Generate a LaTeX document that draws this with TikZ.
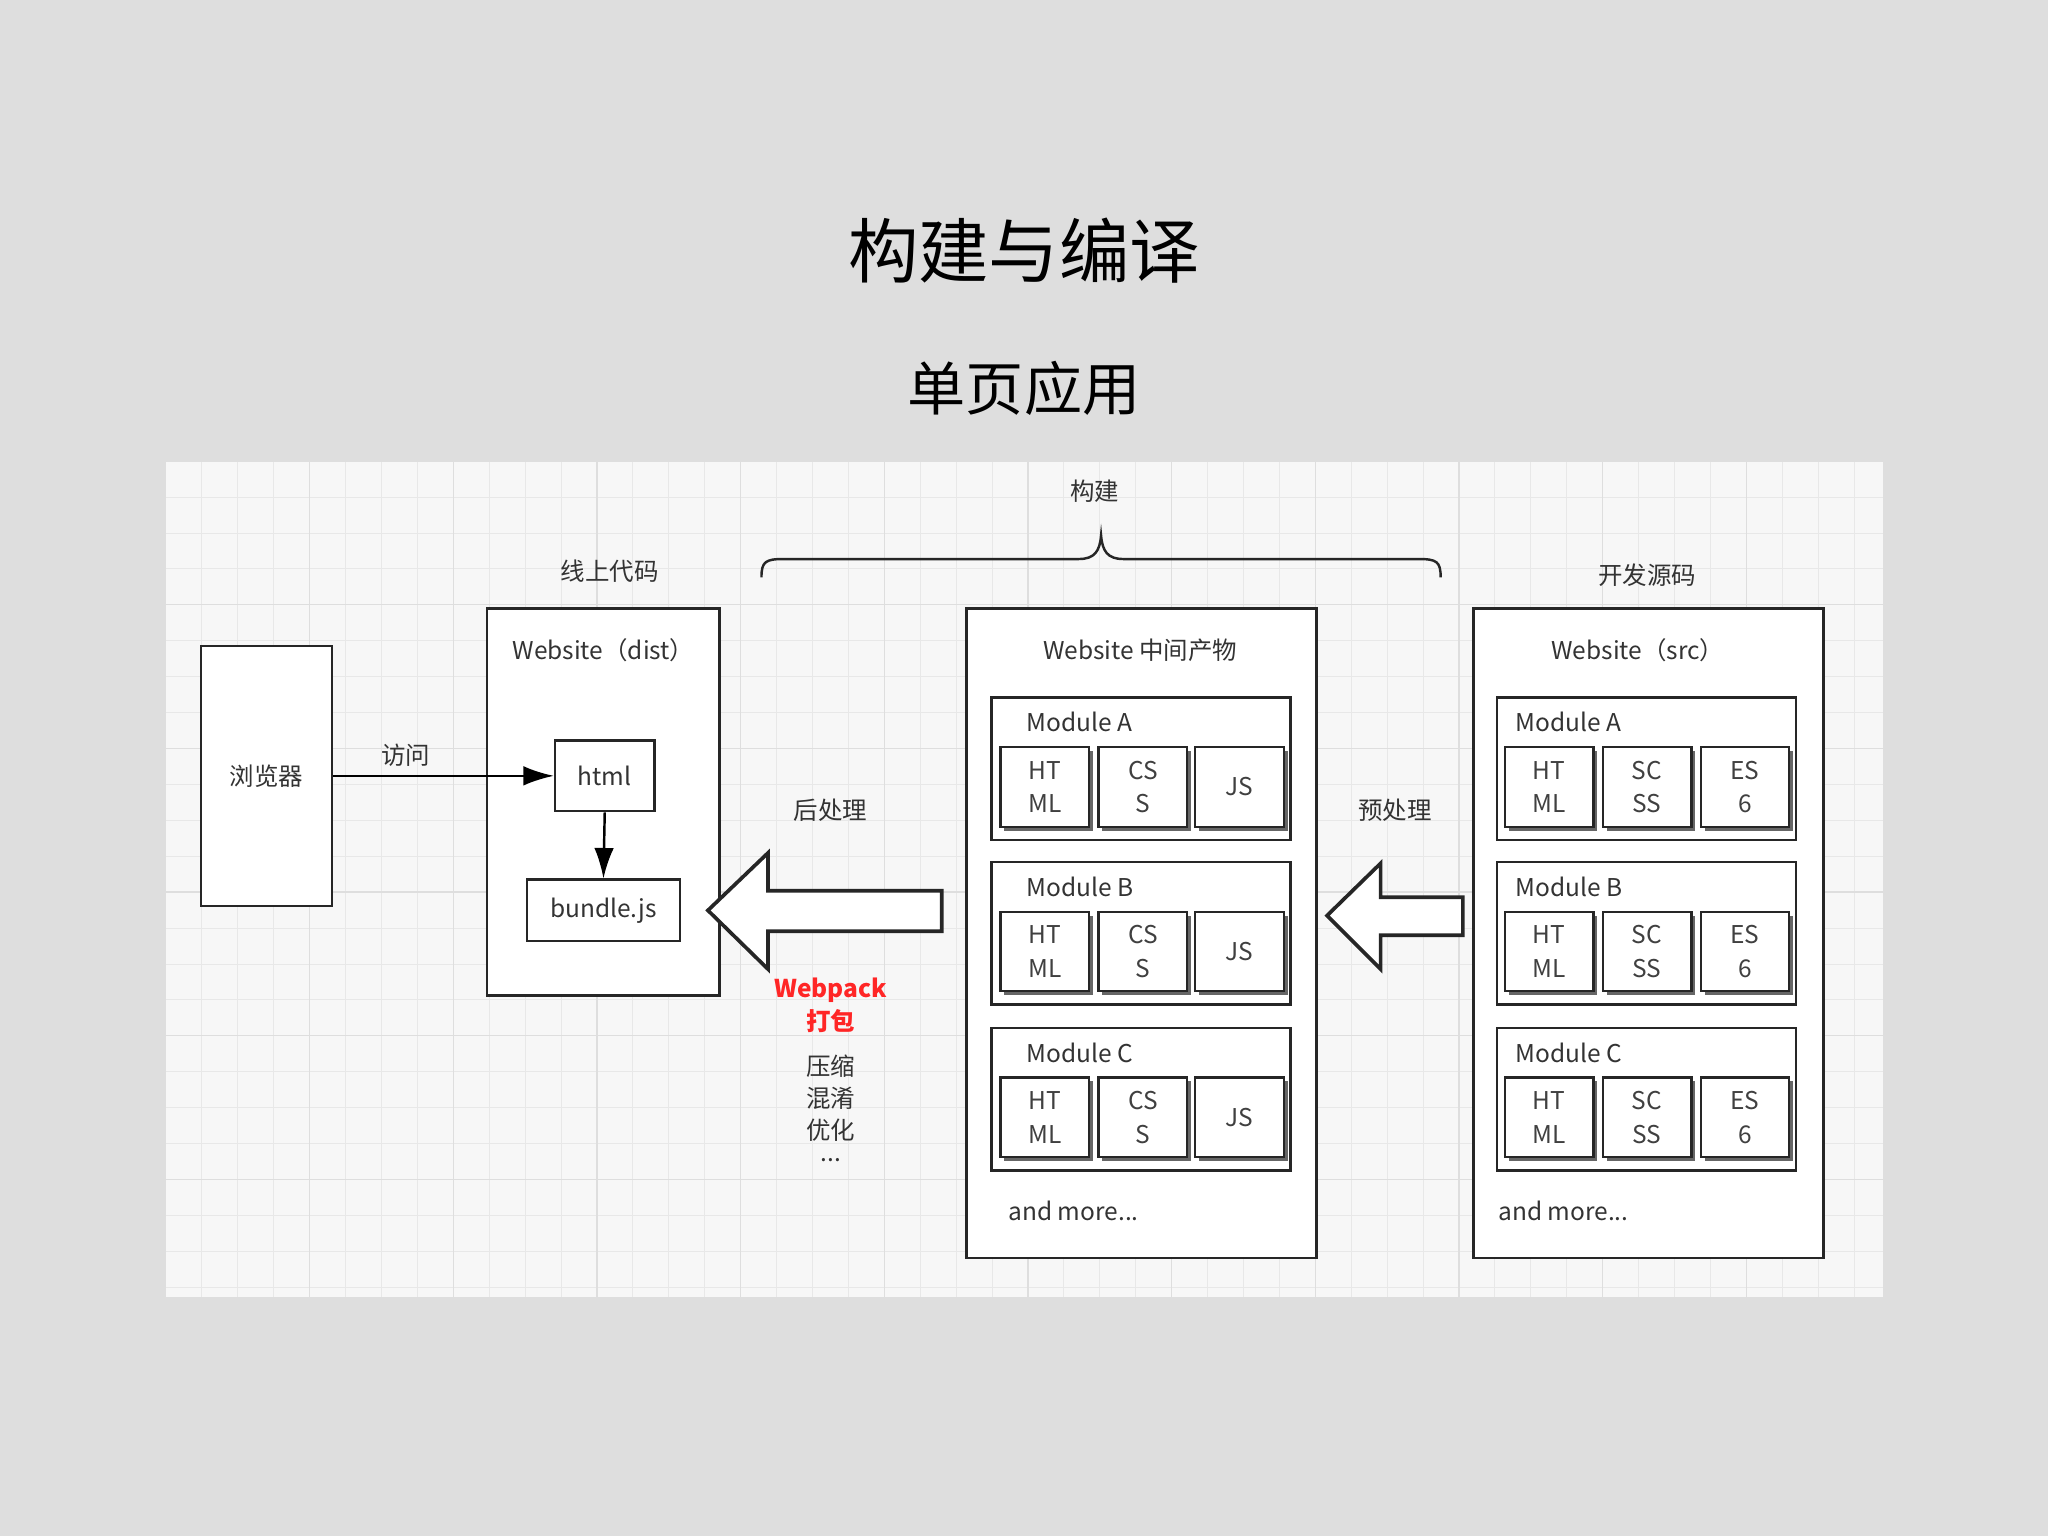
\documentclass[tikz,border=0pt]{standalone}
\usetikzlibrary{arrows.meta}
\usepackage{fontspec}
\setmainfont{Noto Sans CJK SC}
\begin{document}
\begin{tikzpicture}[x=0.03cm,y=-0.03cm,
  box/.style={draw=black!85,line width=1.6pt,fill=white},
  inner/.style={draw=black!85,line width=1.4pt,fill=white,minimum width=2.04cm,minimum height=1.83cm,inner sep=0pt,align=center,font=\fontsize{16}{22}\selectfont,text=black!75},
  lbl/.style={font=\fontsize{16}{19}\selectfont,text=black!80},
  hollow/.style={draw=black!85,line width=2.4pt,fill=white,line join=miter}]
\useasboundingbox (0,0) rectangle (1568,1176);
\fill[black!13] (0,0) rectangle (1568,1176);
\fill[black!3] (127,353) rectangle (1442,993);
\begin{scope}
\clip (127,353) rectangle (1442,993);
\foreach \x in {0,...,48} \draw[black!9,line width=0.5pt] (127+27.5*\x,353) -- (127+27.5*\x,993);
\foreach \y in {0,...,24} \draw[black!9,line width=0.5pt] (127,353+27.5*\y) -- (1442,353+27.5*\y);
\foreach \x in {0,...,12} \draw[black!13,line width=0.8pt] (127+110*\x,353) -- (127+110*\x,993);
\foreach \y in {0,...,6} \draw[black!13,line width=0.8pt] (127,353+110*\y) -- (1442,353+110*\y);
\end{scope}
\node[font=\fontsize{46}{52}\selectfont] (title) at (784,192) {构建与编译};
\node[font=\fontsize{38}{44}\selectfont] (sub) at (784,297) {单页应用};
% browser
\node[box,minimum width=3.0cm,minimum height=5.97cm,lbl] (br) at (204,594) {浏览器};
% dist
\draw[box] (373,466) rectangle (551,762);
\node[lbl] (distt) at (462,498) {Website（dist）};
\node[lbl] (distl) at (467,437) {线上代码};
\node[box,minimum width=2.28cm,minimum height=1.62cm,lbl] (html) at (463,594) {html};
\node[box,minimum width=3.51cm,minimum height=1.41cm,lbl] (bundle) at (462,697) {bundle.js};
\draw[line width=1.6pt,-{Latex[length=0.7cm,width=0.45cm]}] (br.east) -- (html.west) node[midway,above,lbl,pos=0.33,yshift=2pt] (visit) {访问};
\draw[line width=1.6pt,-{Latex[length=0.7cm,width=0.45cm]}] (html.south) -- (bundle.north);
% hollow arrows
\draw[hollow] (542,697) -- (588,653) -- (588,682) -- (721,682) -- (721,713) -- (588,713) -- (588,742) -- cycle;
\draw[hollow] (1016,701) -- (1057,661) -- (1057,687) -- (1120,687) -- (1120,716) -- (1057,716) -- (1057,742) -- cycle;
\node[lbl] (post) at (636,620) {后处理};
\node[lbl] (pre) at (1068,620) {预处理};
\node[font=\bfseries\fontsize{16}{19}\selectfont,text=red!85!white] (wp) at (636,758) {Webpack};
\node[font=\bfseries\fontsize{16}{19}\selectfont,text=red!85!white] (wp2) at (636,782) {打包};
\node[lbl] (o1) at (636,816) {压缩};
\node[lbl] (o2) at (636,841) {混淆};
\node[lbl] (o3) at (636,865) {优化};
\node[lbl] (o4) at (636,888) {...};
% brace
\draw[line width=1.6pt,black!85] (583,442) .. controls (583,430) and (586,428) .. (600,428) -- (826,428) .. controls (838,428) and (842,422) .. (843,410) .. controls (844,422) and (848,428) .. (860,428) -- (1086,428) .. controls (1100,428) and (1103,430) .. (1103,442);
\node[lbl] (build) at (838,376) {构建};
% middle & right
\draw[box] (740,466) rectangle (1008,963);
\node[lbl] (midt) at (873,498) {Website 中间产物};
\node[lbl,anchor=west] (midm) at (768,927) {and more...};
\draw[box] (1128,466) rectangle (1396,963);
\node[lbl] (srct) at (1254,498) {Website（src）};
\node[lbl] (srcl) at (1261,440) {开发源码};
\node[lbl,anchor=west] (srcm) at (1143,927) {and more...};
\foreach \m/\t [count=\i] in {A/534,B/660,C/787}{
  \draw[box] (759,\t) rectangle (988,\t+109);
  \draw[box] (1146,\t) rectangle (1375,\t+109);
  \node[lbl,anchor=west] (ml\i) at (782,\t+19) {Module \m};
  \node[lbl,anchor=west] (sl\i) at (1156,\t+19) {Module \m};
  \foreach \xx/\tx [count=\j] in {800/{HT\\ML},875/{CS\\S},949/{JS}}{
    \fill[black!60] (\xx-34+3,\t+38+3) rectangle (\xx+34+3,\t+99+3);
    \node[inner] (m\i\j) at (\xx,\t+68.5) {\tx};
  }
  \foreach \xx/\tx [count=\j] in {1186/{HT\\ML},1261/{SC\\SS},1336/{ES\\6}}{
    \fill[black!60] (\xx-34+3,\t+38+3) rectangle (\xx+34+3,\t+99+3);
    \node[inner] (s\i\j) at (\xx,\t+68.5) {\tx};
  }
}
\end{tikzpicture}
\end{document}
